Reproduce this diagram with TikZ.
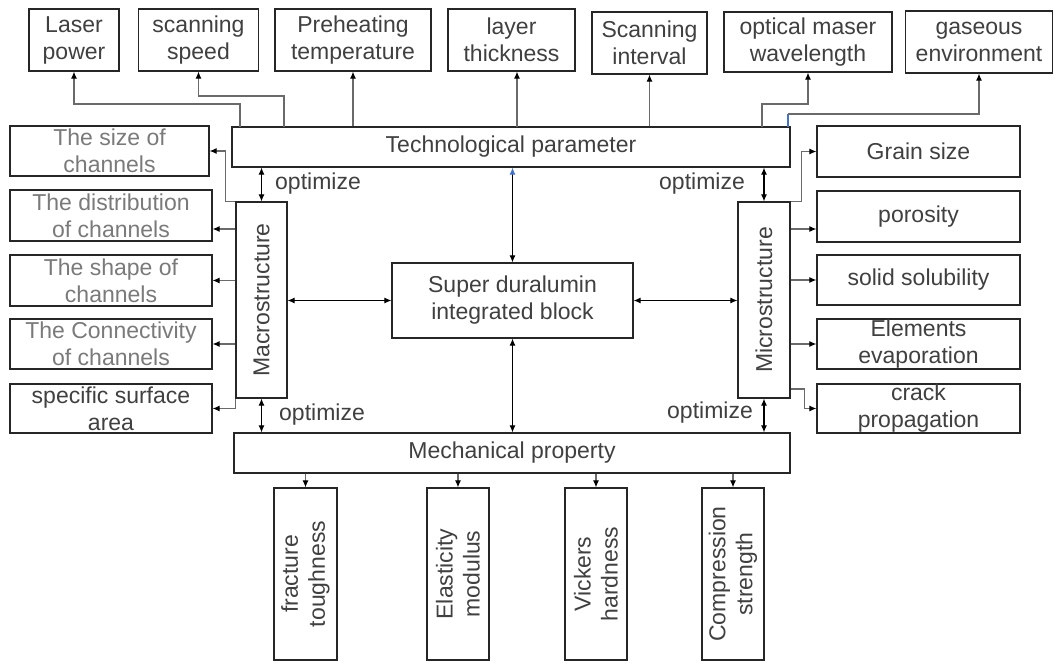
\documentclass[tikz,border=0pt]{standalone}
\usepackage{fontspec}
\setmainfont{Liberation Sans}
\usetikzlibrary{arrows.meta}
\definecolor{txt}{HTML}{404040}
\definecolor{ltxt}{HTML}{7A7A7A}
\definecolor{edge}{HTML}{262626}
\definecolor{ln}{HTML}{6A6A6A}
\definecolor{myblue}{HTML}{4472C4}
\begin{document}
\begin{tikzpicture}[x=1pt,y=-1pt,
  font=\fontsize{23}{27}\selectfont,
  bx/.style={draw=edge, line width=1.2pt, rectangle, inner sep=0pt, align=center, text=txt},
  lbx/.style={bx, text=ltxt},
  rtxt/.style={rotate=90, align=center, text=txt, inner sep=0pt},
  conn/.style={draw=ln, line width=1.1pt, -{Latex[length=7pt,width=6pt,color=black]}},
  dbl/.style={draw=black, line width=1.1pt, {Latex[length=7pt,width=6pt]}-{Latex[length=7pt,width=6pt]}},
  lbl/.style={text=txt, inner sep=0pt}]
\fill[white] (0,0) rectangle (1059,667);
\useasboundingbox (0,0) rectangle (1059,667);

% top row
\node[bx, minimum width=90pt, minimum height=62pt] (laser) at (74,40) {Laser\\power};
\node[bx, minimum width=120pt, minimum height=62pt] (speed) at (198.5,40) {scanning\\speed};
\node[bx, minimum width=156pt, minimum height=62pt] (preheat) at (353,40) {Preheating\\temperature};
\node[bx, minimum width=127pt, minimum height=62pt] (layer) at (511.5,40) {layer\\thickness};
\node[bx, minimum width=115pt, minimum height=62pt] (interval) at (649.5,43) {Scanning\\interval};
\node[bx, minimum width=168pt, minimum height=60pt] (maser) at (808,42) {optical maser\\wavelength};
\node[bx, minimum width=147pt, minimum height=62pt] (gas) at (979,42) {gaseous\\environment};

% main bars
\node[bx, minimum width=558pt, minimum height=40pt] (tech) at (511,147) {Technological parameter};
\node[bx, minimum width=556pt, minimum height=40pt] (mech) at (512,453) {Mechanical property};

% left column
\node[lbx, minimum width=199pt, minimum height=50pt] (size) at (109.5,151) {The size of\\channels};
\node[lbx, minimum width=202pt, minimum height=51pt] (dist) at (111,215.5) {The distribution\\of channels};
\node[lbx, minimum width=202pt, minimum height=51pt] (shape) at (111,280.5) {The shape of\\channels};
\node[lbx, minimum width=202pt, minimum height=50pt] (conn) at (111,344) {The Connectivity\\of channels};
\node[bx, minimum width=202pt, minimum height=49pt] (ssa) at (111,408.5) {specific surface\\area};

% right column
\node[bx, minimum width=203pt, minimum height=51pt] (grain) at (918.5,151.5) {Grain size};
\node[bx, minimum width=203pt, minimum height=51pt] (poro) at (918.5,216.5) {porosity};
\node[bx, minimum width=203pt, minimum height=50pt] (solid) at (918.5,280) {solid solubility};
\node[bx, minimum width=203pt, minimum height=50pt] (elem) at (918.5,344) {Elements\\evaporation};
\node[bx, minimum width=203pt, minimum height=49pt] (crack) at (918.5,408.5) {crack\\propagation};

% structure boxes
\node[bx, minimum width=51pt, minimum height=196pt] (macro) at (261.5,300) {};
\node[rtxt] (macrot) at (macro.center) {Macrostructure};
\node[bx, minimum width=52pt, minimum height=196pt] (micro) at (764,300) {};
\node[rtxt] (microt) at (micro.center) {Microstructure};
\node[bx, minimum width=241pt, minimum height=75pt] (block) at (512.5,300.5) {Super duralumin\\integrated block};

% bottom boxes
\node[bx, minimum width=63pt, minimum height=172pt] (fract) at (305.5,574) {};
\node[rtxt] (fractt) at (fract.center) {fracture\\toughness};
\node[bx, minimum width=62pt, minimum height=172pt] (elast) at (458,574) {};
\node[rtxt] (elastt) at (elast.center) {Elasticity\\modulus};
\node[bx, minimum width=62pt, minimum height=172pt] (vick) at (596,574) {};
\node[rtxt] (vickt) at (vick.center) {Vickers\\hardness};
\node[bx, minimum width=62pt, minimum height=172pt] (comp) at (733,574) {};
\node[rtxt] (compt) at (comp.center) {Compression\\strength};

% optimize labels
\node[lbl] (o1) at (318,184) {optimize};
\node[lbl] (o2) at (322,415) {optimize};
\node[lbl] (o3) at (702,184) {optimize};
\node[lbl] (o4) at (710,413) {optimize};

% top connectors
\coordinate (a1) at (240,127);
\draw[conn] (a1) -- ++(0,-23) -| (laser.south);
\coordinate (a2) at (284,127);
\draw[conn] (a2) -- ++(0,-31) -| (speed.south);
\draw[conn] (preheat.south |- tech.north) -- (preheat.south);
\coordinate (a4) at (517,127);
\draw[conn] (a4) -- (a4 |- layer.south);
\draw[conn] (interval.south |- tech.north) -- (interval.south);
\coordinate (a6) at (762,127);
\draw[conn] (a6) -- ++(0,-23) -| (maser.south);
\coordinate (a7) at (788,127);
\coordinate (a7b) at (788,114);
\draw[myblue, line width=1.1pt] (a7) -- (a7b);
\draw[conn] (a7b) -| (gas.south);

% left connectors
\draw[conn] (macro.north west) -- ++(-10,0) |- (size.east);
\draw[conn] (macro.west |- 0,229) -- (dist.east |- 0,229);
\draw[conn] (macro.west |- shape.east) -- (shape.east);
\draw[conn] (macro.west |- conn.east) -- (conn.east);
\draw[conn] (macro.south west) |- (ssa.east);

% right connectors
\draw[conn] (micro.north east) -- ++(11,0) |- (grain.west);
\draw[conn] (micro.east |- 0,229) -- (poro.west |- 0,229);
\draw[conn] (micro.east |- solid.west) -- (solid.west);
\draw[conn] (micro.east |- elem.west) -- (elem.west);
\draw[conn] (micro.east |- 0,389) -- ++(14,0) |- (crack.west);

% central double arrows
\draw[dbl] (macro.east |- block.west) -- (block.west);
\draw[dbl] (block.east) -- (micro.west |- block.east);
\draw[line width=1.1pt, {Latex[length=7pt,width=6pt,color=myblue]}-{Latex[length=7pt,width=6pt]}] (block.north |- tech.south) -- (block.north);
\draw[dbl] (block.south) -- (block.south |- mech.north);

% optimize arrows
\draw[dbl] (macro.north |- tech.south) -- (macro.north);
\draw[dbl] (macro.south) -- (macro.south |- mech.north);
\draw[dbl] (micro.north |- tech.south) -- (micro.north);
\draw[dbl] (micro.south) -- (micro.south |- mech.north);

% bottom connectors
\draw[conn] (fract.north |- mech.south) -- (fract.north);
\draw[conn] (elast.north |- mech.south) -- (elast.north);
\draw[conn] (vick.north |- mech.south) -- (vick.north);
\draw[conn] (comp.north |- mech.south) -- (comp.north);
\end{tikzpicture}
\end{document}
